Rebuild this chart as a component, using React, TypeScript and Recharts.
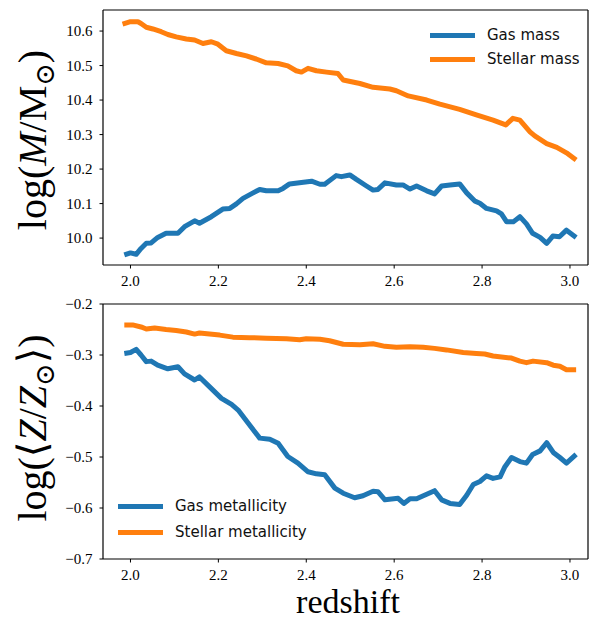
import React from "react";
import { Line, LineChart, ReferenceLine, XAxis, YAxis } from "recharts";

// redshift samples + values
const gasMassZ = [1.986, 2.0, 2.013, 2.024, 2.036, 2.047, 2.062, 2.081, 2.108, 2.123, 2.146, 2.157, 2.184, 2.21, 2.226, 2.241, 2.256, 2.279, 2.294, 2.309, 2.336, 2.347, 2.362, 2.389, 2.412, 2.431, 2.442, 2.468, 2.48, 2.499, 2.514, 2.537, 2.552, 2.563, 2.579, 2.605, 2.62, 2.636, 2.651, 2.674, 2.692, 2.708, 2.727, 2.749, 2.765, 2.784, 2.795, 2.81, 2.833, 2.844, 2.856, 2.871, 2.886, 2.901, 2.915, 2.932, 2.947, 2.961, 2.976, 2.992, 3.014];
const gasMass = [9.951, 9.957, 9.953, 9.97, 9.985, 9.986, 10.002, 10.014, 10.014, 10.033, 10.05, 10.043, 10.062, 10.084, 10.086, 10.099, 10.115, 10.131, 10.141, 10.137, 10.137, 10.144, 10.157, 10.161, 10.165, 10.156, 10.156, 10.181, 10.178, 10.183, 10.17, 10.151, 10.139, 10.141, 10.16, 10.154, 10.154, 10.142, 10.151, 10.137, 10.128, 10.151, 10.154, 10.157, 10.131, 10.107, 10.101, 10.086, 10.079, 10.07, 10.047, 10.047, 10.062, 10.041, 10.014, 10.002, 9.985, 10.006, 10.004, 10.023, 10.002];

const starMassZ = [1.982, 2.0, 2.017, 2.024, 2.036, 2.051, 2.07, 2.085, 2.104, 2.127, 2.146, 2.165, 2.184, 2.199, 2.218, 2.241, 2.264, 2.286, 2.309, 2.336, 2.358, 2.377, 2.389, 2.404, 2.423, 2.446, 2.472, 2.484, 2.522, 2.552, 2.59, 2.605, 2.632, 2.674, 2.704, 2.749, 2.787, 2.825, 2.854, 2.87, 2.886, 2.909, 2.92, 2.947, 2.97, 2.992, 3.014];
const starMass = [10.62, 10.627, 10.627, 10.622, 10.611, 10.606, 10.598, 10.59, 10.583, 10.577, 10.574, 10.564, 10.569, 10.562, 10.543, 10.535, 10.528, 10.519, 10.508, 10.506, 10.499, 10.485, 10.481, 10.492, 10.485, 10.481, 10.477, 10.458, 10.448, 10.437, 10.432, 10.427, 10.412, 10.4, 10.388, 10.373, 10.357, 10.342, 10.328, 10.347, 10.342, 10.308, 10.296, 10.274, 10.263, 10.247, 10.226];

const gasMetZ = [1.986, 2.0, 2.013, 2.024, 2.036, 2.047, 2.062, 2.085, 2.108, 2.123, 2.146, 2.157, 2.176, 2.207, 2.23, 2.245, 2.268, 2.294, 2.317, 2.336, 2.358, 2.381, 2.404, 2.423, 2.442, 2.465, 2.484, 2.51, 2.529, 2.552, 2.563, 2.579, 2.609, 2.622, 2.636, 2.651, 2.674, 2.692, 2.708, 2.727, 2.749, 2.765, 2.78, 2.795, 2.81, 2.825, 2.841, 2.852, 2.867, 2.886, 2.901, 2.915, 2.932, 2.947, 2.962, 2.977, 2.992, 3.014];
const gasMet = [-0.297, -0.295, -0.289, -0.3, -0.313, -0.312, -0.32, -0.327, -0.323, -0.337, -0.349, -0.343, -0.359, -0.385, -0.397, -0.408, -0.434, -0.463, -0.465, -0.473, -0.499, -0.512, -0.529, -0.533, -0.535, -0.561, -0.571, -0.58, -0.576, -0.567, -0.568, -0.584, -0.581, -0.591, -0.582, -0.582, -0.573, -0.566, -0.584, -0.591, -0.593, -0.575, -0.554, -0.548, -0.537, -0.542, -0.539, -0.519, -0.501, -0.509, -0.512, -0.495, -0.488, -0.472, -0.491, -0.501, -0.512, -0.495];

const starMetZ = [1.986, 2.005, 2.024, 2.036, 2.055, 2.081, 2.104, 2.127, 2.146, 2.157, 2.18, 2.203, 2.233, 2.271, 2.309, 2.355, 2.385, 2.4, 2.431, 2.453, 2.484, 2.522, 2.552, 2.579, 2.605, 2.636, 2.666, 2.692, 2.719, 2.757, 2.787, 2.806, 2.825, 2.867, 2.886, 2.901, 2.916, 2.947, 2.962, 2.977, 2.992, 3.014];
const starMet = [-0.241, -0.241, -0.245, -0.249, -0.247, -0.25, -0.252, -0.255, -0.259, -0.257, -0.259, -0.261, -0.265, -0.266, -0.267, -0.268, -0.27, -0.268, -0.269, -0.272, -0.279, -0.28, -0.278, -0.283, -0.285, -0.284, -0.285, -0.287, -0.29, -0.295, -0.297, -0.298, -0.302, -0.306, -0.312, -0.315, -0.312, -0.315, -0.32, -0.322, -0.329, -0.329];

const zTicks = [2.0, 2.2, 2.4, 2.6, 2.8, 3.0];
const massTicks = [10.0, 10.1, 10.2, 10.3, 10.4, 10.5, 10.6];
const metTicks = [-0.7, -0.6, -0.5, -0.4, -0.3, -0.2];
const massNames = ["Gas mass", "Stellar mass"];
const metNames = ["Gas metallicity", "Stellar metallicity"];

const zip = (xs: number[], ys: number[]) => xs.map((x, i) => ({ x, y: ys[i] }));

const BLUE = "#1f77b4";
const ORANGE = "#ff7f0e";
const SERIF = "'Liberation Serif', 'DejaVu Serif', serif";
const SANS = "'DejaVu Sans', sans-serif";
const X_DOMAIN: [number, number] = [1.9375, 3.041];

const tickStyle = { fill: "#000", fontSize: 15, fontFamily: SERIF };
const axisLine = { stroke: "#000", strokeWidth: 1.2 };
const tickLine = { stroke: "#000", strokeWidth: 1 };
const fmt = (v: number) => v.toFixed(1).replace("-", "\u2212");

function Key({ names, rowH, left, top }: { names: string[]; rowH: number; left: number; top: number }) {
  const colors = [BLUE, ORANGE];
  return (
    <div style={{ position: "absolute", left, top, fontFamily: SANS, fontSize: 15, color: "#111" }}>
      {names.map((n, i) => (
        <div key={n} style={{ display: "flex", alignItems: "center", height: rowH, whiteSpace: "nowrap" }}>
          <div style={{ width: 45, height: 5, background: colors[i], marginRight: 12 }} />
          <span>{n}</span>
        </div>
      ))}
    </div>
  );
}

function MassLabel() {
  return (
    <text x={46} y={140} transform="rotate(-90, 46, 140)" textAnchor="middle" fontFamily={SERIF} fontSize={40} fill="#000">
      <tspan>log(</tspan>
      <tspan fontStyle="italic">M</tspan>
      <tspan>/M</tspan>
      <tspan fontSize={27} dy={8}>{"\u2299"}</tspan>
      <tspan dy={-8}>)</tspan>
    </text>
  );
}

function MetLabel() {
  return (
    <text x={46} y={133} transform="rotate(-90, 46, 133)" textAnchor="middle" fontFamily={SERIF} fontSize={40} fill="#000">
      <tspan>log(</tspan>
      <tspan>{"\u27E8"}</tspan>
      <tspan fontStyle="italic">Z</tspan>
      <tspan>/</tspan>
      <tspan fontStyle="italic">Z</tspan>
      <tspan fontSize={27} dy={8}>{"\u2299"}</tspan>
      <tspan dy={-8}>{"\u27E9"})</tspan>
    </text>
  );
}

export default function App() {
  return (
    <div style={{ position: "absolute", left: 0, top: 0, width: 593, height: 622, background: "#fff", overflow: "hidden" }}>
      <div style={{ position: "absolute", left: 0, top: 0 }}>
        <LineChart width={593} height={295} margin={{ top: 10, right: 5, bottom: 0, left: 0 }}>
          <XAxis type="number" dataKey="x" domain={X_DOMAIN} ticks={zTicks} tickFormatter={fmt} allowDataOverflow
            height={30} tick={tickStyle} tickSize={3.5} tickMargin={7} axisLine={axisLine} tickLine={tickLine} interval={0} />
          <YAxis type="number" domain={[9.922, 10.661]} ticks={massTicks} tickFormatter={fmt} allowDataOverflow
            width={103} tick={tickStyle} tickSize={3.5} tickMargin={7} axisLine={axisLine} tickLine={tickLine} interval={0}
            label={<MassLabel />} />
          <ReferenceLine y={10.661} stroke="#000" strokeWidth={1.2} />
          <ReferenceLine x={3.041} stroke="#000" strokeWidth={1.2} />
          <Line data={zip(gasMassZ, gasMass)} dataKey="y" name={massNames[0]} stroke={BLUE} strokeWidth={5} dot={false}
            strokeLinejoin="round" isAnimationActive={false} />
          <Line data={zip(starMassZ, starMass)} dataKey="y" name={massNames[1]} stroke={ORANGE} strokeWidth={5} dot={false}
            strokeLinejoin="round" isAnimationActive={false} />
        </LineChart>
      </div>
      <div style={{ position: "absolute", left: 0, top: 295 }}>
        <LineChart width={593} height={327} margin={{ top: 9, right: 5, bottom: 0, left: 0 }}>
          <XAxis type="number" dataKey="x" domain={X_DOMAIN} ticks={zTicks} tickFormatter={fmt} allowDataOverflow
            height={63} tick={tickStyle} tickSize={3.5} tickMargin={7} axisLine={axisLine} tickLine={tickLine} interval={0} />
          <YAxis type="number" domain={[-0.7, -0.2]} ticks={metTicks} tickFormatter={fmt} allowDataOverflow
            width={103} tick={tickStyle} tickSize={3.5} tickMargin={7} axisLine={axisLine} tickLine={tickLine} interval={0}
            label={<MetLabel />} />
          <ReferenceLine y={-0.2} stroke="#000" strokeWidth={1.2} />
          <ReferenceLine x={3.041} stroke="#000" strokeWidth={1.2} />
          <Line data={zip(gasMetZ, gasMet)} dataKey="y" name={metNames[0]} stroke={BLUE} strokeWidth={5} dot={false}
            strokeLinejoin="round" isAnimationActive={false} />
          <Line data={zip(starMetZ, starMet)} dataKey="y" name={metNames[1]} stroke={ORANGE} strokeWidth={5} dot={false}
            strokeLinejoin="round" isAnimationActive={false} />
          <text x={348} y={318} textAnchor="middle" fontFamily={SERIF} fontSize={34} fill="#000">redshift</text>
        </LineChart>
      </div>
      <Key names={massNames} rowH={24} left={430} top={23} />
      <Key names={metNames} rowH={26} left={118} top={493} />
    </div>
  );
}
